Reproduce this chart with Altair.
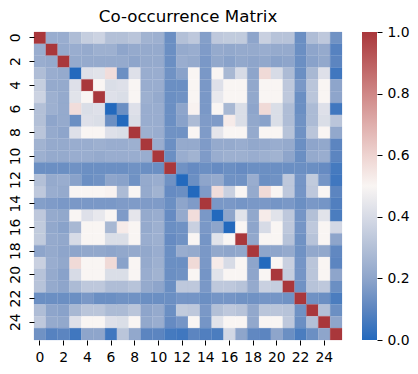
import altair as alt
import pandas as pd

# Upper triangle of the symmetric matrix, one list per row (row i holds columns i..25)
row_00 = [1,.23,.23,.29,.35,.37,.3,.3,.32,.25,.24,.13,.3,.33,.18,.33,.34,.34,.2,.36,.31,.31,.13,.29,.33,.14]
row_01 = [1,.22,.23,.22,.24,.24,.2,.22,.22,.22,.13,.22,.23,.17,.22,.21,.22,.22,.23,.22,.22,.13,.2,.22,.09]
row_02 = [1,.22,.22,.22,.22,.22,.2,.22,.22,.13,.23,.22,.16,.21,.19,.21,.2,.21,.19,.2,.13,.19,.21,.1]
row_03 = [0,.42,.43,.57,.13,.42,.23,.23,.14,.19,.5,.16,.5,.27,.4,.2,.58,.4,.28,.13,.27,.42,.05]
row_04 = [1,.5,.41,.42,.5,.23,.23,.13,.13,.5,.16,.42,.5,.5,.21,.5,.5,.33,.16,.32,.5,.2]
row_05 = [1,.42,.41,.5,.24,.22,.13,.14,.5,.16,.45,.5,.5,.21,.5,.5,.33,.13,.32,.5,.2]
row_06 = [0,.13,.42,.23,.23,.13,.2,.51,.16,.5,.27,.41,.2,.58,.41,.29,.13,.28,.42,.05]
row_07 = [0,.41,.23,.23,.13,.19,.28,.17,.17,.53,.41,.21,.19,.41,.29,.14,.28,.41,.32]
row_08 = [1,.24,.23,.14,.14,.5,.17,.44,.5,.5,.22,.5,.5,.31,.14,.32,.5,.21]
row_09 = [1,.23,.13,.22,.22,.17,.22,.22,.23,.21,.22,.23,.22,.13,.2,.21,.1]
row_10 = [1,.13,.23,.25,.17,.23,.24,.24,.23,.24,.25,.2,.13,.22,.23,.1]
row_11 = [1,.14,.12,.13,.12,.13,.12,.13,.13,.13,.13,.13,.13,.12,.06]
row_12 = [0,.13,.2,.22,.14,.14,.23,.13,.14,.33,.15,.34,.15,.05]
row_13 = [0,.17,.57,.36,.5,.22,.58,.5,.33,.15,.33,.5,.1]
row_14 = [1,.16,.16,.15,.16,.16,.15,.16,.13,.16,.15,.08]
row_15 = [0,.2,.43,.21,.53,.43,.33,.15,.3,.43,.07]
row_16 = [0,.5,.2,.4,.5,.33,.15,.33,.5,.39]
row_17 = [1,.21,.5,.5,.31,.14,.31,.5,.2]
row_18 = [1,.2,.2,.22,.14,.21,.21,.11]
row_19 = [0,.5,.36,.15,.32,.5,.1]
row_20 = [1,.35,.15,.32,.5,.2]
row_21 = [1,.14,.31,.33,.13]
row_22 = [1,.14,.13,.07]
row_23 = [1,.3,.13]
row_24 = [1,.2]
row_25 = [1]

upper = [row_00,row_01,row_02,row_03,row_04,row_05,row_06,row_07,row_08,row_09,row_10,row_11,row_12,
         row_13,row_14,row_15,row_16,row_17,row_18,row_19,row_20,row_21,row_22,row_23,row_24,row_25]

cells = []
for i, r in enumerate(upper):
    for k, v in enumerate(r):
        j = i + k
        cells.append({"row": i, "col": j, "v": v})
        if i != j:
            cells.append({"row": j, "col": i, "v": v})
df = pd.DataFrame(cells)

labels = list(range(26))
even = list(range(0, 26, 2))
stops_v = [0, .1, .2, .3, .4, .5, .6, .7, .8, .9, 1]
stops_c = ["#2369bd", "#5c85c0", "#8ea5cb", "#b3c0d7", "#d7dbe6", "#f9f5f3",
           "#eed3d0", "#dfaeac", "#cf8786", "#bc5f60", "#a9373b"]
FONT = "DejaVu Sans"

heat = alt.Chart(df).mark_rect(strokeWidth=0.2).encode(
    x=alt.X("col:O", scale=alt.Scale(domain=labels, paddingInner=0, paddingOuter=0),
            axis=alt.Axis(values=even, labelAngle=0, title=None)),
    y=alt.Y("row:O", scale=alt.Scale(domain=labels, paddingInner=0, paddingOuter=0),
            axis=alt.Axis(values=even, labelAngle=270, labelBaseline="bottom", labelAlign="center", title=None,
                          labelPadding=7)),
    fill=alt.Fill("v:Q", scale=alt.Scale(domain=stops_v, range=stops_c, interpolate="rgb"), legend=None),
    stroke=alt.Stroke("v:Q", scale=alt.Scale(domain=stops_v, range=stops_c, interpolate="rgb"), legend=None),
).properties(width=308, height=308,
             title=alt.TitleParams("Co-occurrence Matrix", font=FONT, fontSize=16.67, fontWeight="normal",
                                   color="black", anchor="middle", offset=6))

grad = alt.Gradient(gradient="linear", x1=0, y1=1, x2=0, y2=0,
                    stops=[alt.GradientStop(offset=v, color=c) for v, c in zip(stops_v, stops_c)])
bar = alt.Chart(pd.DataFrame({"lo": [0], "hi": [1]})).mark_rect(fill=grad).encode(
    x=alt.value(0), x2=alt.value(15),
    y=alt.Y("lo:Q", scale=alt.Scale(domain=[0, 1], nice=False),
            axis=alt.Axis(orient="right", values=[0, .2, .4, .6, .8, 1], format=".1f", title=None,
                          domain=False, grid=False)),
    y2="hi:Q",
).properties(width=15, height=308)

chart = alt.hconcat(heat, bar, spacing=19).resolve_scale(fill="independent", stroke="independent").properties(
    padding={"left": 0, "top": 1, "right": 0, "bottom": 0}
).configure_view(strokeWidth=0).configure_axis(
    labelFont=FONT, labelFontSize=13.9, labelColor="black", tickColor="black", tickSize=5,
    tickWidth=1, labelPadding=5, domain=False, grid=False
)
chart.save("out.html", embed_options={"renderer": "svg", "actions": False})
